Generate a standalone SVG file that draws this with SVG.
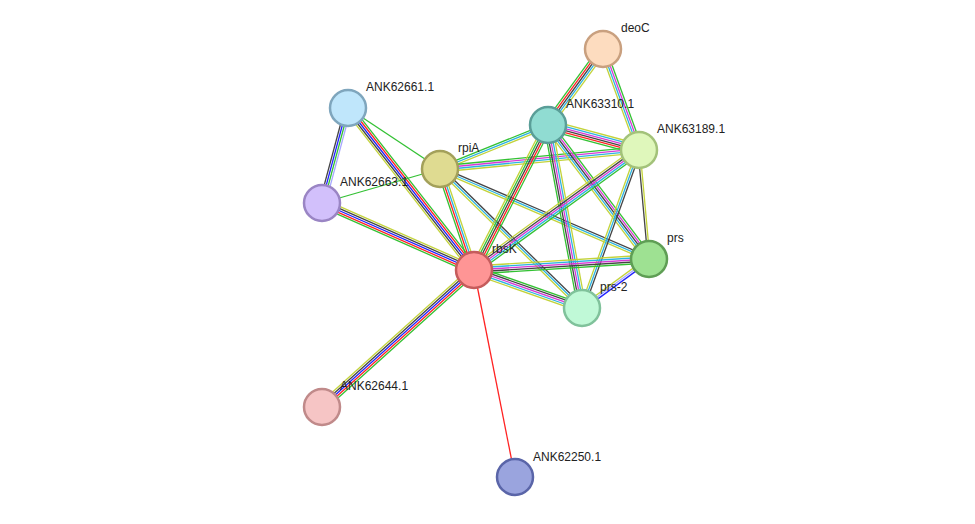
<svg xmlns="http://www.w3.org/2000/svg" width="975" height="524" viewBox="0 0 975 524">
<style>
line{stroke-width:1.3;fill:none}
.g{stroke:#33c133}.r{stroke:#f22}.b{stroke:#22f}.k{stroke:#444}.y{stroke:#c3d33a}.c{stroke:#2cb3e0}.m{stroke:#d53ad5}.l{stroke:#a8a8ff}
circle{stroke-width:2.5}
text{font-family:"Liberation Sans",Arial,sans-serif;font-size:12px;fill:#222}
</style>
<rect width="975" height="524" fill="#fff"/>
<g id="edges">
<g transform="translate(603,49) rotate(126)"><line class="y" x2="94" y1="-4" y2="-4"/><line class="c" x2="94" y1="-2" y2="-2"/><line class="k" x2="94"/><line class="r" x2="94" y1="2" y2="2"/><line class="g" x2="94" y1="4" y2="4"/></g>
<g transform="translate(603,49) rotate(70)"><line class="g" x2="107" y1="-3" y2="-3"/><line class="m" x2="107" y1="-1" y2="-1"/><line class="c" x2="107" y1="1" y2="1"/><line class="y" x2="107" y1="3" y2="3"/></g>
<g transform="translate(548,125) rotate(15)"><line class="y" x2="94" y1="-5" y2="-5"/><line class="c" x2="94" y1="-3" y2="-3"/><line class="m" x2="94" y1="-1" y2="-1"/><line class="k" x2="94" y1="1" y2="1"/><line class="r" x2="94" y1="3" y2="3"/><line class="g" x2="94" y1="5" y2="5"/></g>
<g transform="translate(348,108) rotate(105)"><line class="k" x2="98" y1="3" y2="3"/><line class="b" x2="98" y1="1" y2="1"/><line class="g" x2="98" y1="-1" y2="-1"/><line class="l" x2="98" y1="-3" y2="-3"/></g>
<line class="g" x1="348" y1="108" x2="440" y2="169"/>
<g transform="translate(348,108) rotate(52)"><line class="g" x2="205" y1="-4" y2="-4"/><line class="r" x2="205" y1="-2" y2="-2"/><line class="b" x2="205"/><line class="k" x2="205" y1="2" y2="2"/><line class="y" x2="205" y1="4" y2="4"/></g>
<line class="g" x1="322" y1="203" x2="440" y2="169"/>
<g transform="translate(322,203) rotate(23.8)"><line class="y" x2="166" y1="-4" y2="-4"/><line class="k" x2="166" y1="-2" y2="-2"/><line class="b" x2="166"/><line class="r" x2="166" y1="2" y2="2"/><line class="g" x2="166" y1="4" y2="4"/></g>
<g transform="translate(440,169) rotate(-22)"><line class="g" x2="117" y1="-2" y2="-2"/><line class="c" x2="117"/><line class="y" x2="117" y1="2" y2="2"/></g>
<g transform="translate(440,169) rotate(-5.5)"><line class="g" x2="200" y1="-3" y2="-3"/><line class="m" x2="200" y1="-1" y2="-1"/><line class="c" x2="200" y1="1" y2="1"/><line class="y" x2="200" y1="3" y2="3"/></g>
<g transform="translate(440,169) rotate(71.4)"><line class="g" x2="107" y1="3" y2="3"/><line class="r" x2="107" y1="1" y2="1"/><line class="c" x2="107" y1="-1" y2="-1"/><line class="y" x2="107" y1="-3" y2="-3"/></g>
<g transform="translate(440,169) rotate(23.3)"><line class="k" x2="228" y1="-2" y2="-2"/><line class="c" x2="228"/><line class="y" x2="228" y1="2" y2="2"/></g>
<g transform="translate(440,169) rotate(44.4)"><line class="k" x2="199" y1="-2" y2="-2"/><line class="c" x2="199"/><line class="y" x2="199" y1="2" y2="2"/></g>
<g transform="translate(548,125) rotate(117)"><line class="g" x2="163" y1="-4" y2="-4"/><line class="r" x2="163" y1="-2" y2="-2"/><line class="k" x2="163"/><line class="g" x2="163" y1="2" y2="2"/><line class="y" x2="163" y1="4" y2="4"/></g>
<g transform="translate(548,125) rotate(53)"><line class="g" x2="168" y1="-4" y2="-4"/><line class="m" x2="168" y1="-2" y2="-2"/><line class="k" x2="168"/><line class="c" x2="168" y1="2" y2="2"/><line class="y" x2="168" y1="4" y2="4"/></g>
<g transform="translate(548,125) rotate(79.5)"><line class="g" x2="186" y1="4" y2="4"/><line class="k" x2="186" y1="2" y2="2"/><line class="m" x2="186"/><line class="c" x2="186" y1="-2" y2="-2"/><line class="y" x2="186" y1="-4" y2="-4"/></g>
<g transform="translate(639,150) rotate(144)"><line class="g" x2="204" y1="-4" y2="-4"/><line class="c" x2="204" y1="-2" y2="-2"/><line class="m" x2="204"/><line class="k" x2="204" y1="2" y2="2"/><line class="y" x2="204" y1="4" y2="4"/></g>
<g transform="translate(639,150) rotate(84.8)"><line class="k" x2="109" y1="1" y2="1"/><line class="y" x2="109" y1="-1" y2="-1"/></g>
<g transform="translate(639,150) rotate(109.8)"><line class="k" x2="168" y1="-2" y2="-2"/><line class="c" x2="168"/><line class="y" x2="168" y1="2" y2="2"/></g>
<g transform="translate(474,270) rotate(-3.6)"><line class="y" x2="175" y1="-4" y2="-4"/><line class="c" x2="175" y1="-2" y2="-2"/><line class="m" x2="175"/><line class="k" x2="175" y1="2" y2="2"/><line class="g" x2="175" y1="4" y2="4"/></g>
<g transform="translate(474,270) rotate(19.4)"><line class="g" x2="114" y1="-4" y2="-4"/><line class="k" x2="114" y1="-2" y2="-2"/><line class="m" x2="114"/><line class="c" x2="114" y1="2" y2="2"/><line class="y" x2="114" y1="4" y2="4"/></g>
<g transform="translate(649,259) rotate(143.8)"><line class="b" x2="83" y1="-2" y2="-2"/><line class="l" x2="83"/><line class="y" x2="83" y1="2" y2="2"/></g>
<g transform="translate(474,270) rotate(138)"><line class="g" x2="205" y1="-4" y2="-4"/><line class="r" x2="205" y1="-2" y2="-2"/><line class="b" x2="205"/><line class="k" x2="205" y1="2" y2="2"/><line class="y" x2="205" y1="4" y2="4"/></g>
<line class="r" x1="474" y1="270" x2="515" y2="477"/>
</g>
<g id="deoC"><circle cx="603" cy="49" r="18" fill="#fddcbf" stroke="#c9a07f"/><text x="621" y="32">deoC</text></g>
<g id="ANK63310.1"><circle cx="548" cy="125" r="18" fill="#90dcd2" stroke="#5a9e98"/><text x="566" y="108">ANK63310.1</text></g>
<g id="ANK63189.1"><circle cx="639" cy="150" r="18" fill="#dff7bb" stroke="#a3c27a"/><text x="657" y="133">ANK63189.1</text></g>
<g id="ANK62661.1"><circle cx="348" cy="108" r="18" fill="#bfe6fb" stroke="#7fa6bd"/><text x="366" y="91">ANK62661.1</text></g>
<g id="rpiA"><circle cx="440" cy="169" r="18" fill="#dfdb91" stroke="#a3a05a"/><text x="458" y="152">rpiA</text></g>
<g id="ANK62663.1"><circle cx="322" cy="203" r="18" fill="#d2c0fb" stroke="#9a85c4"/><text x="340" y="186">ANK62663.1</text></g>
<g id="rbsK"><circle cx="474" cy="270" r="18" fill="#fe9595" stroke="#c55c5c"/><text x="492" y="253">rbsK</text></g>
<g id="prs"><circle cx="649" cy="259" r="18" fill="#9ee192" stroke="#5f9e55"/><text x="667" y="242">prs</text></g>
<g id="prs-2"><circle cx="582" cy="308" r="18" fill="#c0f9d7" stroke="#80c29b"/><text x="600" y="291">prs-2</text></g>
<g id="ANK62644.1"><circle cx="322" cy="407" r="18" fill="#f6c5c5" stroke="#c08a8a"/><text x="340" y="390">ANK62644.1</text></g>
<g id="ANK62250.1"><circle cx="515" cy="477" r="18" fill="#9aa4de" stroke="#5a65a8"/><text x="533" y="461">ANK62250.1</text></g>
</svg>
